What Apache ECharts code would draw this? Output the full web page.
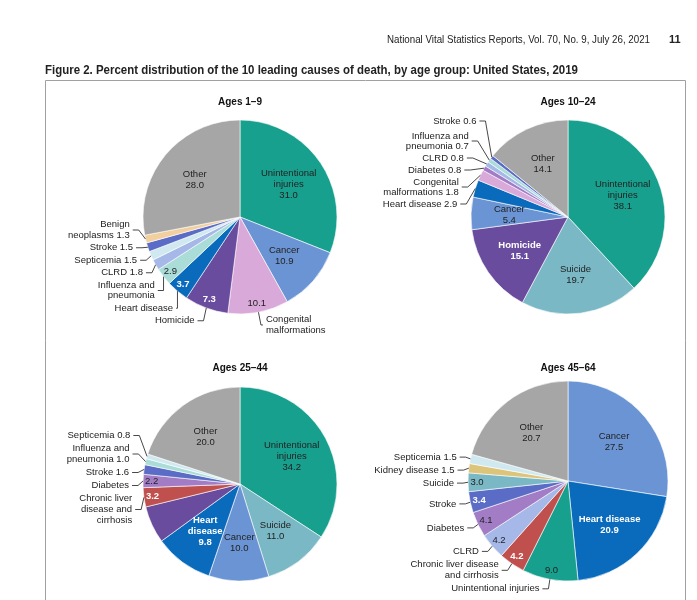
<!DOCTYPE html>
<html><head><meta charset="utf-8">
<script src="https://cdn.jsdelivr.net/npm/echarts@6/dist/echarts.min.js"></script>
<style>
html,body{margin:0;padding:0;background:#fff;}
#wrap{position:relative;width:697px;height:600px;overflow:hidden;font-family:"Liberation Sans",Arial,sans-serif;}
#chart{position:absolute;left:0;top:0;width:697px;height:600px;}
.hdr{position:absolute;white-space:nowrap;transform-origin:0 0;color:#222;line-height:1;}
</style></head><body>
<div id="wrap">
<div id="chart"></div>
<div class="hdr" id="running" style="font-size:11px;top:34px;left:387px;">National Vital Statistics Reports, Vol. 70, No. 9, July 26, 2021</div>
<div class="hdr" id="page" style="font-size:11px;font-weight:bold;top:34px;left:669px;">11</div>
<div class="hdr" id="figtitle" style="font-size:13.5px;font-weight:bold;top:63px;left:45px;">Figure 2. Percent distribution of the 10 leading causes of death, by age group: United States, 2019</div>
</div>
<script>
// ---- data ----
const pieTitles = ['Ages 1\u20139', 'Ages 10\u201324', 'Ages 25\u201344', 'Ages 45\u201364'];
const causes1to9 = ['Unintentional injuries','Cancer','Congenital malformations','Homicide','Heart disease','Influenza and pneumonia','CLRD','Septicemia','Stroke','Benign neoplasms','Other'];
const pct1to9 = [31.0,10.9,10.1,7.3,3.7,2.9,1.8,1.5,1.5,1.3,28.0];
const causes10to24 = ['Unintentional injuries','Suicide','Homicide','Cancer','Heart disease','Congenital malformations','Diabetes','CLRD','Influenza and pneumonia','Stroke','Other'];
const pct10to24 = [38.1,19.7,15.1,5.4,2.9,1.8,0.8,0.8,0.7,0.6,14.1];
const causes25to44 = ['Unintentional injuries','Suicide','Cancer','Heart disease','Homicide','Chronic liver disease and cirrhosis','Diabetes','Stroke','Influenza and pneumonia','Septicemia','Other'];
const pct25to44 = [34.2,11.0,10.0,9.8,6.2,3.2,2.2,1.6,1.0,0.8,20.0];
const causes45to64 = ['Cancer','Heart disease','Unintentional injuries','Chronic liver disease and cirrhosis','CLRD','Diabetes','Stroke','Suicide','Kidney disease','Septicemia','Other'];
const pct45to64 = [27.5,20.9,9.0,4.2,4.2,4.1,3.4,3.0,1.5,1.5,20.7];

// ---- styles ----
const causeColor = {
  'Unintentional injuries':'#17a08e','Cancer':'#6b94d4','Congenital malformations':'#d9a9d9',
  'Homicide':'#6a4c9e','Heart disease':'#0a6bbd','Influenza and pneumonia':'#aadcd8',
  'CLRD':'#a6b8e8','Septicemia':'#d0e9f1','Stroke':'#5b6cc6','Benign neoplasms':'#f2cf9e',
  'Other':'#a6a6a6','Suicide':'#79b8c4','Diabetes':'#a27dc6',
  'Chronic liver disease and cirrhosis':'#c0504d','Kidney disease':'#dcc47a'
};
// label texts: in = inside (name+value), edge = value near rim,
// out = outside with leader line, out2 = outside label kept in its own layout group
const labels1 = {
  'Unintentional injuries':{in:'Unintentional\ninjuries\n{v}'},
  'Cancer':{in:'Cancer\n{v}'},
  'Congenital malformations':{edge:'{v}', out2:'Congenital\nmalformations'},
  'Homicide':{edge:'{v}', out:'Homicide', white:true},
  'Heart disease':{edge:'{v}', out:'Heart disease', white:true},
  'Influenza and pneumonia':{edge:'{v}', out:'Influenza and\npneumonia'},
  'CLRD':{out:'CLRD {v}'},
  'Septicemia':{out:'Septicemia {v}'},
  'Stroke':{out:'Stroke {v}'},
  'Benign neoplasms':{out:'Benign\nneoplasms {v}'},
  'Other':{in:'Other\n{v}'}
};
const labels2 = {
  'Unintentional injuries':{in:'Unintentional\ninjuries\n{v}'},
  'Suicide':{in:'Suicide\n{v}'},
  'Homicide':{in:'Homicide\n{v}', white:true},
  'Cancer':{in:'Cancer\n{v}'},
  'Heart disease':{out:'Heart disease {v}'},
  'Congenital malformations':{out:'Congenital\nmalformations {v}'},
  'Diabetes':{out:'Diabetes {v}'},
  'CLRD':{out:'CLRD {v}'},
  'Influenza and pneumonia':{out:'Influenza and\npneumonia {v}'},
  'Stroke':{out:'Stroke {v}', lift:true},
  'Other':{in:'Other\n{v}'}
};
const labels3 = {
  'Unintentional injuries':{in:'Unintentional\ninjuries\n{v}'},
  'Suicide':{in:'Suicide\n{v}'},
  'Cancer':{in:'Cancer\n{v}'},
  'Heart disease':{in:'Heart\ndisease\n{v}', white:true},
  'Homicide':{in:'Homicide\n{v}', white:true},
  'Chronic liver disease and cirrhosis':{edge:'{v}', out:'Chronic liver\ndisease and\ncirrhosis', white:true},
  'Diabetes':{edge:'{v}', out:'Diabetes'},
  'Stroke':{out:'Stroke {v}'},
  'Influenza and pneumonia':{out:'Influenza and\npneumonia {v}'},
  'Septicemia':{out:'Septicemia {v}'},
  'Other':{in:'Other\n{v}'}
};
const labels4 = {
  'Cancer':{in:'Cancer\n{v}'},
  'Heart disease':{in:'Heart disease\n{v}', white:true},
  'Unintentional injuries':{edge:'{v}', out:'Unintentional injuries'},
  'Chronic liver disease and cirrhosis':{edge:'{v}', out:'Chronic liver disease\nand cirrhosis', white:true},
  'CLRD':{edge:'{v}', out:'CLRD'},
  'Diabetes':{edge:'{v}', out:'Diabetes'},
  'Stroke':{edge:'{v}', out:'Stroke', white:true},
  'Suicide':{edge:'{v}', out:'Suicide'},
  'Kidney disease':{out:'Kidney disease {v}'},
  'Septicemia':{out:'Septicemia {v}'},
  'Other':{in:'Other\n{v}'}
};

// layout per pie (labelBottom = lower bound the outside labels are kept above)
const pies = [
  {title:pieTitles[0], causes:causes1to9, values:pct1to9, spec:labels1, center:[240,217], r:97, titleY:102, labelBottom:327, outLH:10.5},
  {title:pieTitles[1], causes:causes10to24, values:pct10to24, spec:labels2, center:[568,217], r:97, titleY:102, labelBottom:210, outLH:10},
  {title:pieTitles[2], causes:causes25to44, values:pct25to44, spec:labels3, center:[240,484], r:97, titleY:368, labelBottom:527, outLH:11},
  {title:pieTitles[3], causes:causes45to64, values:pct45to64, spec:labels4, center:[568,481], r:100, titleY:368, labelBottom:600, outLH:11}
];

const FONT = '"Liberation Sans", Arial, Helvetica, sans-serif';
const series = [];
const graphics = [{
  type:'rect', shape:{x:45.5, y:80.5, width:640, height:560},
  style:{fill:'none', stroke:'#a0a0a0', lineWidth:1}, silent:true
}];

pies.forEach(p => {
  const R = p.r;
  const common = {type:'pie', center:p.center, startAngle:90, clockwise:true, animation:false,
    silent:true, emphasis:{disabled:true}, minAngle:0, stillShowZeroSum:true,
    left:0, top:0, width:697, height:600};
  series.push(Object.assign({}, common, {
    radius:[0, R], z:2,
    itemStyle:{borderColor:'#ffffff', borderWidth:0.6},
    label:{show:false}, labelLine:{show:false},
    data:p.causes.map((c,i)=>({name:c, value:p.values[i], itemStyle:{color:causeColor[c]}}))
  }));
  const mk = (key, radius, position, bound, lineLen) => Object.assign({}, common, {
    radius, z:3,
    height: bound,
    avoidLabelOverlap: position === 'outside',
    itemStyle:{color:'transparent', borderWidth:0},
    label:{show:true, position, fontFamily:FONT, fontSize:9.5,
      lineHeight: position === 'outside' ? p.outLH : 11, color:'#222',
      distanceToLabelLine:3,
      formatter:q => {
        const s = p.spec[q.name];
        return (s && s[key]) ? s[key].replace('{v}', Number(q.value).toFixed(1)) : '';
      }},
    labelLine: position === 'outside'
      ? {show:true, length:lineLen[0], length2:lineLen[1], smooth:false, lineStyle:{color:'#333', width:0.9}}
      : {show:false},
    data:p.causes.map((c,i)=>{
      const s = p.spec[c];
      const d = {name:c, value:p.values[i]};
      if (!s[key]) { d.label = {show:false}; d.labelLine = {show:false}; }
      else if (s.white && key !== 'out' && key !== 'out2') d.label = {color:'#ffffff', fontWeight:'bold'};
      else if (s.lift && key === 'out') d.label = {padding:[0,0,6,0]};
      return d;
    })
  });
  series.push(mk('in', [R*0.15, R], 'inside', 600));
  series.push(mk('edge', [R*0.76, R], 'inside', 600));
  series.push(mk('out', [0, R], 'outside', p.labelBottom, [8,6]));
  if (Object.values(p.spec).some(s => s.out2)) series.push(mk('out2', [0, R], 'outside', 600, [13,2]));
  graphics.push({type:'text', x:p.center[0], y:p.titleY, silent:true,
    style:{text:p.title, font:'bold 10px ' + FONT, fill:'#111', textAlign:'center', textVerticalAlign:'middle'}});
});

// condense header texts to their widths in the reference
function fit(id, w) {
  const el = document.getElementById(id);
  const nat = el.getBoundingClientRect().width;
  el.style.transform = 'scaleX(' + (w / nat) + ')';
}
fit('running', 263);
fit('figtitle', 533);

const chart = echarts.init(document.getElementById('chart'), null, {renderer:'canvas'});
chart.setOption({
  backgroundColor:'#ffffff',
  animation:false,
  graphic:graphics,
  series
});
</script>
</body></html>
